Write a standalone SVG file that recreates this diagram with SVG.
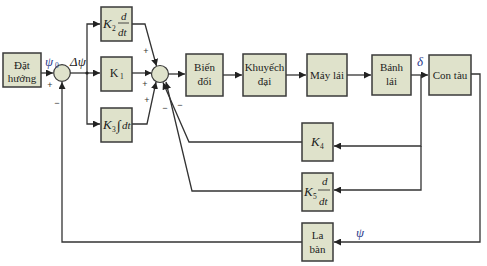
<svg xmlns="http://www.w3.org/2000/svg" width="487" height="266" viewBox="0 0 487 266">
<style>
.box{fill:#dfe2cb;stroke:#3a3a3a;stroke-width:1.5}
.sum{fill:#dfe2cb;stroke:#3a3a3a;stroke-width:1.2}
.ln{fill:none;stroke:#333;stroke-width:1.3}
.t{font-family:"Liberation Serif",serif;font-size:11px;fill:#222;text-anchor:middle}
.i{font-family:"Liberation Serif",serif;font-style:italic;font-size:13px;fill:#222}
.f{font-family:"Liberation Serif",serif;font-style:italic;font-size:11px;fill:#222}
.s{font-family:"Liberation Serif",serif;font-size:7.5px;fill:#222}
.g{font-family:"Liberation Sans",sans-serif;font-size:9px;fill:#333;text-anchor:middle}
.b{fill:#2b3a8c}
</style>
<defs>
<marker id="a" viewBox="0 0 10 10" refX="10" refY="5" markerWidth="7" markerHeight="7" markerUnits="userSpaceOnUse" orient="auto">
<path d="M0,0 L10,5 L0,10 z" fill="#222"/>
</marker>
</defs>
<rect width="487" height="266" fill="#fff"/>
<g id="connectors">
<path class="ln" d="M41,73 H53" marker-end="url(#a)"/>
<path class="ln" d="M70,73 H100" marker-end="url(#a)"/>
<path class="ln" d="M87,73 V24 H100" marker-end="url(#a)"/>
<path class="ln" d="M87,73 V124 H100" marker-end="url(#a)"/>
<circle cx="87" cy="73" r="1.6" fill="#222"/>
<path class="ln" d="M132,24 H145 L156.5,66" marker-end="url(#a)"/>
<path class="ln" d="M132,73 H151.5" marker-end="url(#a)"/>
<path class="ln" d="M132,124 H147 L156,82" marker-end="url(#a)"/>
<path class="ln" d="M168.5,74 H185" marker-end="url(#a)"/>
<path class="ln" d="M223,75 H242" marker-end="url(#a)"/>
<path class="ln" d="M286,75 H306" marker-end="url(#a)"/>
<path class="ln" d="M347,75 H371" marker-end="url(#a)"/>
<path class="ln" d="M411,75 H428" marker-end="url(#a)"/>
<path class="ln" d="M471,74 H480 V242 H334" marker-end="url(#a)"/>
<path class="ln" d="M421,75 V146 H334" marker-end="url(#a)"/>
<path class="ln" d="M421,146 V190 H334" marker-end="url(#a)"/>
<path class="ln" d="M302,142 H189 L163,82.5" marker-end="url(#a)"/>
<path class="ln" d="M302,191 H192 L166,82" marker-end="url(#a)"/>
<path class="ln" d="M302,242 H62 V82" marker-end="url(#a)"/>
</g>
<g id="dat-huong">
<rect class="box" x="3" y="53" width="38" height="34"/>
<text class="t" x="22" y="69">Đặt</text>
<text class="t" x="22" y="82">hướng</text>
</g>
<g id="sum1">
<circle class="sum" cx="62" cy="73" r="8.3"/>
<text class="i b" x="45" y="66">ψ</text><text class="s b" x="55" y="68">0</text>
<text class="i" x="70" y="66">Δψ</text>
<text class="g" x="50" y="88">+</text>
<text class="g" x="57" y="106">−</text>
</g>
<g id="k2">
<rect class="box" x="101" y="7" width="31" height="34"/>
<text class="i" x="103" y="28">K</text><text class="s" x="112" y="31">2</text>
<text class="f" x="121" y="20">d</text>
<line x1="118" y1="23" x2="129" y2="23" stroke="#222" stroke-width="0.8"/>
<text class="f" x="118" y="36">dt</text>
</g>
<g id="k1">
<rect class="box" x="101" y="57" width="31" height="34"/>
<text class="t" x="114" y="77" style="font-size:12px">K</text><text class="s" x="120" y="79">1</text>
</g>
<g id="k3">
<rect class="box" x="101" y="108" width="31" height="34"/>
<text class="i" x="103" y="129">K</text><text class="s" x="112" y="132">3</text>
<text class="i" x="117" y="130" style="font-size:14px">∫</text>
<text class="f" x="122" y="129">dt</text>
</g>
<g id="sum2">
<circle class="sum" cx="160" cy="74" r="8.5"/>
<text class="g" x="146" y="54">+</text>
<text class="g" x="145" y="87">+</text>
<text class="g" x="147" y="103">+</text>
<text class="g" x="165" y="111">−</text>
<text class="g" x="180" y="108">−</text>
</g>
<g id="bien-doi">
<rect class="box" x="186" y="54" width="37" height="42"/>
<text class="t" x="204.5" y="71">Biến</text>
<text class="t" x="204.5" y="85">đổi</text>
</g>
<g id="khuyech-dai">
<rect class="box" x="243" y="54" width="43" height="42"/>
<text class="t" x="264.5" y="71">Khuyếch</text>
<text class="t" x="264.5" y="85">đại</text>
</g>
<g id="may-lai">
<rect class="box" x="307" y="54" width="40" height="42"/>
<text class="t" x="327" y="79">Máy lái</text>
</g>
<g id="banh-lai">
<rect class="box" x="372" y="55" width="39" height="40"/>
<text class="t" x="391.5" y="71">Bánh</text>
<text class="t" x="391.5" y="85">lái</text>
</g>
<text class="i b" x="417" y="66">δ</text>
<g id="con-tau">
<rect class="box" x="429" y="55" width="42" height="40"/>
<text class="t" x="450" y="79">Con tàu</text>
</g>
<g id="k4">
<rect class="box" x="302" y="123" width="31" height="38"/>
<text class="i" x="311" y="146">K</text><text class="s" x="320" y="149">4</text>
</g>
<g id="k5">
<rect class="box" x="302" y="173" width="31" height="38"/>
<text class="i" x="304" y="196">K</text><text class="s" x="313" y="199">5</text>
<text class="f" x="322" y="185">d</text>
<line x1="318" y1="190" x2="330" y2="190" stroke="#222" stroke-width="0.8"/>
<text class="f" x="319" y="205">dt</text>
</g>
<g id="la-ban">
<rect class="box" x="302" y="223" width="31" height="38"/>
<text class="t" x="317.5" y="239">La</text>
<text class="t" x="317.5" y="253">bàn</text>
</g>
<text class="i b" x="356" y="237">ψ</text>
</svg>
